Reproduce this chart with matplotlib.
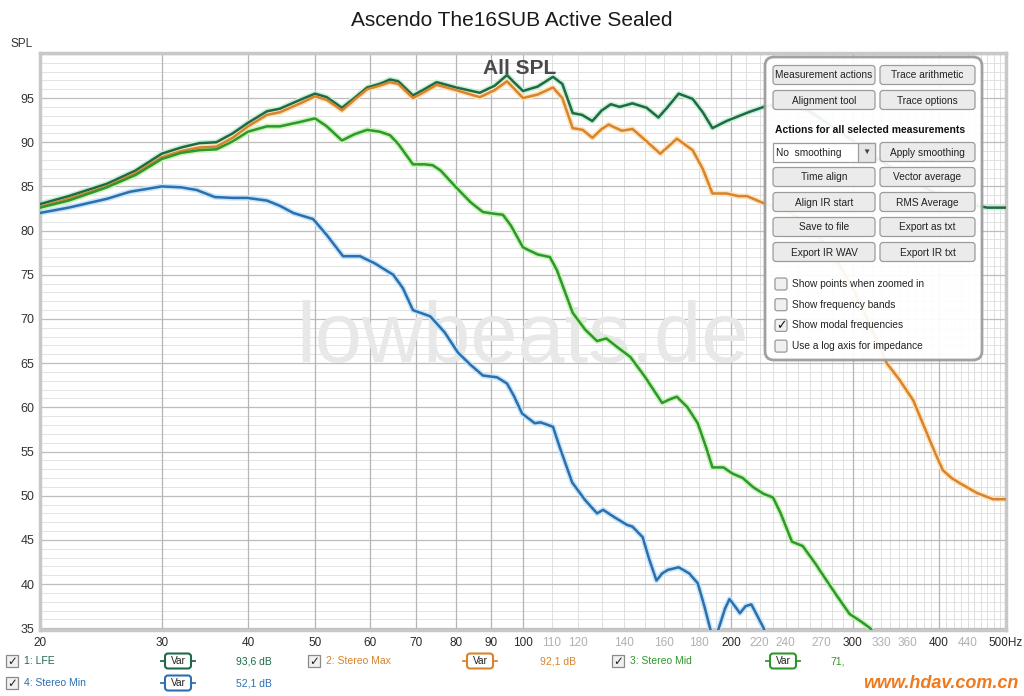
import matplotlib
matplotlib.use("Agg")
import matplotlib.pyplot as plt
from matplotlib.patches import FancyBboxPatch, Rectangle

plt.rcParams['font.family'] = ['Liberation Sans', 'DejaVu Sans']

lfe_f = [20, 22, 25, 27.5, 30, 32, 34, 36, 38, 40, 42.6, 44.5, 47.6, 50, 52, 54.7, 57, 59.5, 62, 64.2,
         66, 69.3, 72, 75, 80, 86.6, 91, 94.8, 97, 100, 105, 110.5, 114, 118, 121.7, 126, 130, 134, 138,
         144, 151, 157, 162, 168, 176, 182, 188, 197, 212, 223, 240, 260, 290, 320, 360, 400, 440, 470, 500]
lfe_db = [83.0, 83.9, 85.3, 86.8, 88.7, 89.4, 89.9, 90.0, 91.0, 92.2, 93.5, 93.8, 94.8, 95.5, 95.1, 93.9,
          95.0, 96.2, 96.6, 97.1, 96.9, 95.3, 96.0, 96.8, 96.2, 95.6, 96.4, 97.6, 96.8, 95.8, 96.3, 97.4,
          96.6, 93.3, 93.1, 92.4, 93.6, 94.3, 94.0, 94.4, 93.9, 92.8, 94.0, 95.5, 94.9, 93.4, 91.6, 92.4,
          93.4, 94.0, 94.5, 93.5, 91.0, 88.5, 86.0, 84.0, 83.0, 82.6, 82.6]

max_f = [20, 22, 25, 27.5, 30, 32, 34, 36, 38, 40, 42.6, 44.5, 47.6, 50, 52, 54.7, 57, 59.5, 62, 64.2,
         66, 69.3, 72, 75, 80, 86.6, 91, 94.8, 97, 100, 105, 110.5, 114, 118, 122, 126, 130, 133, 139,
         144, 149, 158, 167, 176, 182, 188, 197, 205, 211, 223, 240, 260, 280, 300, 320, 336, 350, 367,
         384, 395, 405, 417, 429, 454, 479, 500]
max_db = [82.7, 83.6, 85.0, 86.5, 88.3, 89.0, 89.4, 89.5, 90.5, 91.8, 93.1, 93.4, 94.4, 95.2, 94.8, 93.6,
          94.8, 96.0, 96.4, 96.8, 96.6, 95.0, 95.7, 96.5, 95.9, 95.1, 95.9, 96.9, 96.1, 95.0, 95.4, 96.2,
          95.0, 91.6, 91.4, 90.5, 91.5, 92.0, 91.3, 91.5, 90.5, 88.7, 90.4, 89.1, 87.0, 84.2, 84.2, 83.9,
          83.9, 83.1, 82.4, 80.5, 77.5, 73.5, 68.8, 65.0, 63.2, 60.8, 57.1, 54.8, 52.9, 52.0, 51.4, 50.3,
          49.6, 49.6]

mid_f = [20, 22, 25, 27.5, 30, 32, 34, 36, 38, 40, 42.6, 44.5, 47.6, 50, 52, 54.7, 57, 59.5, 62, 64.2,
         66, 69.3, 72, 74, 76, 80, 84, 87.5, 91, 93.5, 96, 100, 105, 109.4, 112, 118, 123, 128, 132, 137,
         143, 150, 159, 163, 167, 173, 179, 184, 188, 195, 201, 208, 215, 223, 230, 236, 245, 254, 265,
         275, 285, 297, 308, 318, 330]
mid_db = [82.6, 83.4, 84.9, 86.3, 88.1, 88.8, 89.1, 89.2, 90.1, 91.2, 91.8, 91.8, 92.3, 92.7, 91.8, 90.2,
          90.9, 91.4, 91.2, 90.8, 89.8, 87.5, 87.5, 87.4, 86.8, 84.9, 83.2, 82.1, 81.9, 81.8, 80.6, 78.1,
          77.3, 77.0, 75.5, 70.7, 68.8, 67.5, 67.8, 66.8, 65.7, 63.5, 60.5, 60.9, 61.2, 60.0, 58.2, 55.5,
          53.2, 53.2, 52.5, 52.0, 51.0, 50.2, 49.8, 48.0, 44.8, 44.3, 42.3, 40.4, 38.6, 36.6, 35.8, 35.0,
          33.3]

min_f = [20, 22, 25, 27, 30, 32, 33.7, 35.8, 38, 39.9, 42.6, 44.5, 46.5, 49.7, 52, 54.9, 58.1, 61, 64.9,
         67, 69.3, 73.4, 77, 80.5, 84, 87.5, 91.7, 94.8, 97, 99.7, 104, 106, 110.5, 113, 117.8, 123, 128,
         130.6, 136, 141.4, 144, 149, 152, 156, 159, 162, 168, 174, 179, 183, 186.5, 189, 192, 196, 199,
         203, 206, 210, 214, 218, 223, 226]
min_db = [82.0, 82.6, 83.6, 84.4, 85.0, 84.9, 84.6, 83.8, 83.7, 83.7, 83.4, 82.8, 82.0, 81.3, 79.5, 77.1,
          77.1, 76.3, 75.0, 73.5, 71.0, 70.3, 68.5, 66.2, 64.8, 63.6, 63.4, 62.7, 61.3, 59.3, 58.2, 58.3,
          57.8, 55.5, 51.5, 49.5, 48.0, 48.4, 47.5, 46.7, 46.5, 45.3, 43.0, 40.4, 41.2, 41.6, 41.9, 41.2,
          40.1, 37.5, 35.0, 33.5, 35.0, 37.2, 38.3, 37.4, 36.7, 37.5, 37.7, 36.5, 35.0, 33.5]

series = [
    ("1: LFE", lfe_f, lfe_db, "#1e6a48", "#c9f0d2", "93,6 dB"),
    ("2: Stereo Max", max_f, max_db, "#d8842c", "#fde4bd", "92,1 dB"),
    ("3: Stereo Mid", mid_f, mid_db, "#2f972d", "#c8f4b8", "71,"),
    ("4: Stereo Min", min_f, min_db, "#2c6fae", "#c6e5f8", "52,1 dB"),
]

xticks = [20, 30, 40, 50, 60, 70, 80, 90, 100, 110, 120, 140, 160, 180, 200, 220, 240, 270, 300, 330,
          360, 400, 440, 500]
xdark = [20, 30, 40, 50, 60, 70, 80, 90, 100, 200, 300, 400, 500]

W, H = 1024, 696
fig = plt.figure(figsize=(W / 100, H / 100), dpi=100)
fig.patch.set_facecolor("white")

ax = fig.add_axes([40 / W, 66 / H, 966 / W, 577 / H])
ax.set_xscale("log")
ax.set_xlim(20, 500)
ax.set_ylim(34.8, 100.1)

# Gitter
for v in range(35, 101):
    if v % 5 == 0:
        ax.axhline(v, color="#bdbdbd", lw=0.9, zorder=1)
    else:
        ax.axhline(v, color="#e3e3e3", lw=0.7, zorder=0.5)
for f in range(30, 500, 10):
    if f in xdark or f <= 100:
        ax.axvline(f, color="#b5b5b5", lw=0.9, zorder=1)
    else:
        ax.axvline(f, color="#dedede", lw=0.7, zorder=0.5)

ax.set_yticks(range(35, 100, 5))
ax.set_xticks(xticks)
ax.xaxis.set_minor_locator(matplotlib.ticker.NullLocator())
ax.set_xticklabels([str(t) if t != 500 else "500Hz" for t in xticks])
ax.tick_params(length=0, labelsize=8.5, colors="#333333", pad=5)
ax.tick_params(axis="y", labelsize=9, pad=4)
for lab, t in zip(ax.get_xticklabels(), xticks):
    if t in xdark:
        lab.set_color("#2a2a2a")
    else:
        lab.set_color("#b0b0b0")
for s in ax.spines.values():
    s.set_color("#c8c8c8")
    s.set_linewidth(2.5)

ax.text(0.499, 0.503, "lowbeats.de", transform=ax.transAxes, ha="center", va="center",
        fontsize=61, color="#e8e8e8", zorder=1.5)

for name, f, db, c, glow, val in series:
    ax.plot(f, db, color=glow, lw=4, solid_joinstyle="round", solid_capstyle="round", zorder=2)
for name, f, db, c, glow, val in series:
    ax.plot(f, db, color=c, lw=1.8, solid_joinstyle="round", solid_capstyle="round", zorder=3)

ax.text(0.497, 0.974, "All SPL", transform=ax.transAxes, ha="center", va="center",
        fontsize=15, fontweight="bold", color="#4a4a4a", zorder=4)

fig.text(512 / W, 1 - 20 / H, "Ascendo The16SUB Active Sealed", ha="center", va="center",
         fontsize=15, color="#1a1a1a")
fig.text(22 / W, 1 - 44 / H, "SPL", ha="center", va="center", fontsize=8.5, color="#333333")

# Overlay in Pixelkoordinaten
ov = fig.add_axes([0, 0, 1, 1])
ov.set_xlim(0, W)
ov.set_ylim(H, 0)
ov.axis("off")

ov.add_patch(FancyBboxPatch((765, 57), 217, 303, boxstyle="round,pad=0,rounding_size=9",
                            fc="white", ec="#9a9a9a", lw=2, alpha=0.93))


def button(x, y, w, label, h=19):
    ov.add_patch(FancyBboxPatch((x, y - h / 2), w, h, boxstyle="round,pad=0,rounding_size=3",
                                fc="#ebebeb", ec="#9c9c9c", lw=0.9))
    ov.text(x + w / 2, y + 0.5, label, ha="center", va="center", fontsize=7.3, color="#222222")


button(773, 75, 102, "Measurement actions")
button(880, 75, 95, "Trace arithmetic")
button(773, 100, 102, "Alignment tool")
button(880, 100, 95, "Trace options")
ov.text(775, 130, "Actions for all selected measurements", ha="left", va="center",
        fontsize=7.5, fontweight="bold", color="#111111")
ov.add_patch(Rectangle((773, 142.5), 102, 19, fc="white", ec="#9c9c9c", lw=0.9))
ov.add_patch(Rectangle((858, 142.5), 17, 19, fc="#e6e6e6", ec="#9c9c9c", lw=0.9))
ov.text(776, 152.5, "No  smoothing", ha="left", va="center", fontsize=7.3, color="#222222")
ov.text(866.5, 152, "▼", ha="center", va="center", fontsize=6, color="#444444")
button(880, 152, 95, "Apply smoothing")
button(773, 177, 102, "Time align")
button(880, 177, 95, "Vector average")
button(773, 202, 102, "Align IR start")
button(880, 202, 95, "RMS Average")
button(773, 227, 102, "Save to file")
button(880, 227, 95, "Export as txt")
button(773, 252, 102, "Export IR WAV")
button(880, 252, 95, "Export IR txt")

checks = [("Show points when zoomed in", False), ("Show frequency bands", False),
          ("Show modal frequencies", True), ("Use a log axis for impedance", False)]
for i, (lab, on) in enumerate(checks):
    y = 284 + i * 20.7
    ov.add_patch(FancyBboxPatch((775, y - 6), 12, 12, boxstyle="round,pad=0,rounding_size=2",
                                fc="#f0f0f0", ec="#9a9a9a", lw=0.9))
    if on:
        ov.text(781, y, "✓", ha="center", va="center", fontsize=9, fontweight="bold",
                color="#111111", family=["DejaVu Sans"])
    ov.text(792, y, lab, ha="left", va="center", fontsize=7.3, color="#222222")

# Legende unten
legend_pos = [(6, 661, 178, 236), (308, 661, 480, 540), (612, 661, 783, 830), (6, 683, 178, 236)]
for (name, f, db, c, glow, val), (cx, cy, vx, tx) in zip(series, legend_pos):
    ov.add_patch(Rectangle((cx, cy - 6), 12, 12, fc="#f0f0f0", ec="#8a8a8a", lw=0.9))
    ov.text(cx + 6, cy, "✓", ha="center", va="center", fontsize=8.5, fontweight="bold",
            color="#222222", family=["DejaVu Sans"])
    ov.text(cx + 18, cy, name, ha="left", va="center", fontsize=7.5, color=c)
    ov.plot([vx - 17, vx + 17], [cy, cy], color=c, lw=1.3, zorder=2)
    ov.add_patch(FancyBboxPatch((vx - 13, cy - 7.5), 26, 15, boxstyle="round,pad=0,rounding_size=3",
                                fc="white", ec=c, lw=1.5, zorder=3))
    ov.text(vx, cy + 0.5, "Var", ha="center", va="center", fontsize=7.3, color="#222222", zorder=4)
    ov.text(tx, cy, val, ha="left", va="center", fontsize=7.5, color=c)

ov.text(1018, 684, "www.hdav.com.cn", ha="right", va="center", fontsize=13, fontweight="bold",
        fontstyle="italic", color="#f07a1e")

fig.savefig("out.png", dpi=100, facecolor="white")
